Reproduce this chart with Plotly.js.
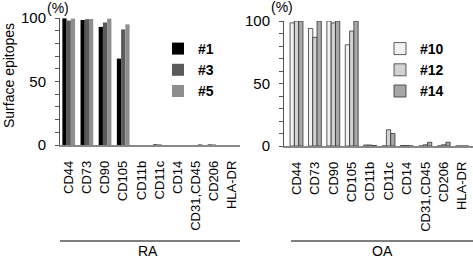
<!DOCTYPE html>
<html><head><meta charset="utf-8">
<script src="https://cdn.plot.ly/plotly-3.0.1.min.js"></script>
<style>html,body{margin:0;padding:0;background:#fff}#c{width:473px;height:260px}</style>
</head><body><div id="c"></div>
<script>
const categories = ['CD44','CD73','CD90','CD105','CD11b','CD11c','CD14','CD31,CD45','CD206','HLA-DR'];
const ra1 = [99.7, 98.4, 93, 68, 0, 0.5, 0, 0, 0.4, 0];
const ra3 = [98, 99, 96.5, 91, 0, 0.5, 0, 0, 0.4, 0];
const ra5 = [99.5, 99.2, 99.5, 95, 0, 0, 0, 0.8, 0, 0];
const oa10 = [98.5, 94, 100, 81, 0.8, 0, 0.4, 0, 0, 0];
const oa12 = [100, 87, 98.5, 92, 0.8, 13, 0.4, 1, 1, 0];
const oa14 = [100, 100, 100, 100, 0.4, 10, 0, 3, 3, 0];
const raNames = ['#1','#3','#5'];
const oaNames = ['#10','#12','#14'];
const yTickVals = [0,10,20,30,40,50,60,70,80,90,100];
const yTickText = ['0','','','','','50','','','','','100'];

const F = 'Arial, "Liberation Sans", sans-serif';
const raCols = ['#000000','#5a5a5a','#8e8e8e'];
const oaCols = ['#f2f2f2','#d2d2d2','#a8a8a8'];
const traces = [];
[ra1, ra3, ra5].forEach((v,i)=>traces.push({type:'bar', x:categories, y:v, name:raNames[i],
  xaxis:'x', yaxis:'y', legend:'legend', marker:{color:raCols[i], line:{width:0}}}));
[oa10, oa12, oa14].forEach((v,i)=>traces.push({type:'bar', x:categories, y:v, name:oaNames[i],
  xaxis:'x2', yaxis:'y2', legend:'legend2', marker:{color:oaCols[i], line:{color:'#333', width:0.8}}}));

const W=473, H=260;
const xa = (l,r,rng,anchor)=>({domain:[l/W,r/W], range:rng, anchor:anchor, type:'category',
  showline:true, linecolor:'#888', linewidth:1.5, showgrid:false, zeroline:false, ticks:'',
  tickangle:-90, ticklabelstandoff:9, tickfont:{family:F, size:13, color:'#000'}, fixedrange:true});
const ya = (b,t,anchor)=>({domain:[(H-b)/H,(H-t)/H], range:[0,100], anchor:anchor,
  showline:true, linecolor:'#555', linewidth:1, showgrid:false, zeroline:false,
  ticks:'outside', ticklen:4, tickcolor:'#555', tickvals:yTickVals, ticktext:yTickText,
  tickfont:{family:F, size:15, color:'#000'}, ticklabelstandoff:6});

const layout = {
  width:W, height:H, margin:{l:0,r:0,t:0,b:0}, paper_bgcolor:'#fff', plot_bgcolor:'rgba(0,0,0,0)',
  barmode:'group', bargap:0.3, bargroupgap:0, font:{family:F, color:'#000'},
  xaxis: xa(60,240,[-0.48,9.43],'y'),
  yaxis: ya(145,18,'x'),
  xaxis2: xa(284,473,[-0.68,9.59],'y2'),
  yaxis2: ya(146,21,'x2'),
  legend:{x:158/W, y:1-33/H, xanchor:'left', yanchor:'top', bgcolor:'rgba(0,0,0,0)',
    font:{family:F, size:14, color:'#000', weight:'bold'}, itemwidth:30, tracegroupgap:0},
  legend2:{x:380/W, y:1-33/H, xanchor:'left', yanchor:'top', bgcolor:'rgba(0,0,0,0)',
    font:{family:F, size:14, color:'#000', weight:'bold'}, itemwidth:30, tracegroupgap:0},
  annotations:[
    {text:'Surface epitopes', xref:'paper', yref:'paper', x:9/W, y:1-76/H, textangle:-90, showarrow:false,
      font:{family:F, size:14}, xanchor:'center', yanchor:'middle'},
    {text:'(%)', xref:'paper', yref:'paper', x:58/W, y:1-8/H, showarrow:false, font:{family:F, size:14}, xanchor:'center', yanchor:'middle'},
    {text:'(%)', xref:'paper', yref:'paper', x:282/W, y:1-7/H, showarrow:false, font:{family:F, size:14}, xanchor:'center', yanchor:'middle'},
    {text:'RA', xref:'paper', yref:'paper', x:148/W, y:1-251/H, showarrow:false, font:{family:F, size:14}, xanchor:'center', yanchor:'middle'},
    {text:'OA', xref:'paper', yref:'paper', x:382/W, y:1-251/H, showarrow:false, font:{family:F, size:14}, xanchor:'center', yanchor:'middle'}
  ],
  shapes:[
    {type:'line', xref:'paper', yref:'paper', x0:60/W, x1:240/W, y0:1-241/H, y1:1-241/H, line:{color:'#000', width:1.2}},
    {type:'line', xref:'paper', yref:'paper', x0:291/W, x1:473/W, y0:1-241/H, y1:1-241/H, line:{color:'#000', width:1.2}}
  ]
};
Plotly.newPlot('c', traces, layout, {staticPlot:true, displayModeBar:false});
</script></body></html>
